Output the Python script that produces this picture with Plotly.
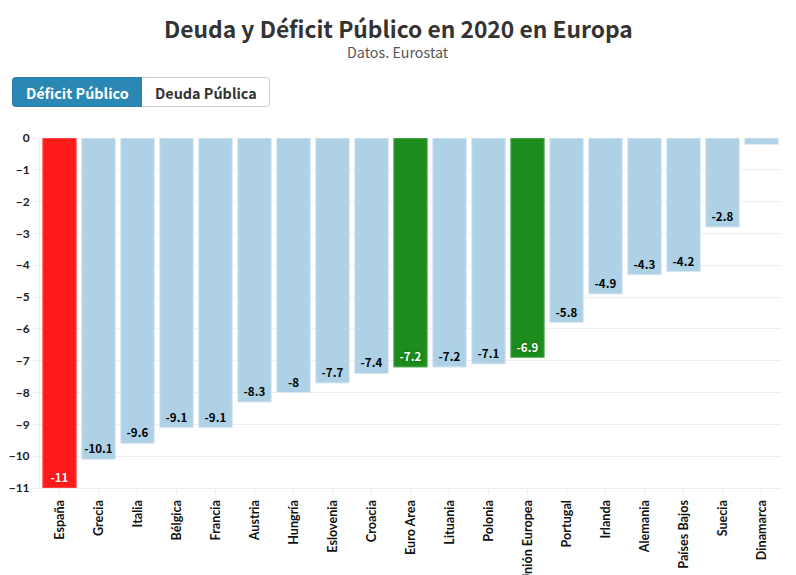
import plotly.graph_objects as go

# Data
paises = ["España", "Grecia", "Italia", "Bélgica", "Francia", "Austria", "Hungría", "Eslovenia",
          "Croacia", "Euro Area", "Lituania", "Polonia", "Unión Europea", "Portugal", "Irlanda",
          "Alemania", "Países Bajos", "Suecia", "Dinamarca"]
deficit = [-11, -10.1, -9.6, -9.1, -9.1, -8.3, -8, -7.7, -7.4, -7.2, -7.2, -7.1, -6.9,
           -5.8, -4.9, -4.3, -4.2, -2.8, -0.2]
etiquetas = ["-11", "-10.1", "-9.6", "-9.1", "-9.1", "-8.3", "-8", "-7.7", "-7.4", "-7.2", "-7.2",
             "-7.1", "-6.9", "-5.8", "-4.9", "-4.3", "-4.2", "-2.8", ""]
y_ticks = [0, -1, -2, -3, -4, -5, -6, -7, -8, -9, -10, -11]

W, H = 796, 575
ML, MR, MT, MB = 40, 15, 138, 87
SOURCE = "Noto Sans CJK SC"

colores = []
borde = []
color_texto = []
sombra = []
for p in paises:
    if p == "España":
        colores.append("#ff1a1a"); borde.append("#ff6a6a"); color_texto.append("white"); sombra.append("0 0 3px #ff0000")
    elif p in ("Euro Area", "Unión Europea"):
        colores.append("#1c8c1c"); borde.append("#6fb86f"); color_texto.append("white"); sombra.append("0 0 3px #006400")
    else:
        colores.append("#aed1e6"); borde.append("#dbe9f3"); color_texto.append("#000000"); sombra.append("0 0 3px #aed1e6")

fig = go.Figure(go.Bar(
    x=paises,
    y=deficit,
    text=etiquetas,
    textposition="inside",
    insidetextanchor="end",
    textangle=0,
    constraintext="none",
    textfont=dict(family=SOURCE, size=11.5, color=color_texto, weight=600, shadow=sombra),
    marker=dict(color=colores, line=dict(color=borde, width=1)),
    width=0.86,
    hoverinfo="x+y",
))


def px_x(v):
    return (v - ML) / (W - ML - MR)


def px_y(v):
    return 1 - (v - MT) / (H - MT - MB)


def boton(x0, x1, y0, y1, r_izq, r_der):
    # rounded box given in pixels, converted to paper coordinates
    return ("M {} {} L {} {} Q {} {} {} {} L {} {} Q {} {} {} {} L {} {} Q {} {} {} {} L {} {} Q {} {} {} {} Z".format(
        px_x(x0 + r_izq), px_y(y0), px_x(x1 - r_der), px_y(y0),
        px_x(x1), px_y(y0), px_x(x1), px_y(y0 + r_der),
        px_x(x1), px_y(y1 - r_der),
        px_x(x1), px_y(y1), px_x(x1 - r_der), px_y(y1),
        px_x(x0 + r_izq), px_y(y1),
        px_x(x0), px_y(y1), px_x(x0), px_y(y1 - r_izq),
        px_x(x0), px_y(y0 + r_izq),
        px_x(x0), px_y(y0), px_x(x0 + r_izq), px_y(y0)))


def texto(x, y, txt, size, color):
    fig.add_annotation(x=px_x(x), y=px_y(y), xref="paper", yref="paper", text=txt, showarrow=False,
                       xanchor="center", yanchor="middle", font=dict(family=SOURCE, size=size, color=color))


fig.add_shape(type="path", path=boton(141.5, 269.5, 77.5, 106.5, 0, 3), xref="paper", yref="paper",
              fillcolor="white", line=dict(color="#cccccc", width=1), layer="above")
fig.add_shape(type="path", path=boton(12.5, 141.5, 77.5, 106.5, 3, 0), xref="paper", yref="paper",
              fillcolor="#2b87b3", line=dict(color="#2a80aa", width=1), layer="above")

texto(77, 92, "<b>Déficit Público</b>", 14.4, "white")
texto(205.5, 92, "<b>Deuda Pública</b>", 14.4, "#333333")
texto(398, 28, "<b>Deuda y Déficit Público en 2020 en Europa</b>", 22.8, "#333333")
texto(398, 52, "Datos. Eurostat", 14.3, "#555555")

fig.update_layout(
    width=W,
    height=H,
    margin=dict(l=ML, r=MR, t=MT, b=MB),
    paper_bgcolor="white",
    plot_bgcolor="white",
    showlegend=False,
    xaxis=dict(
        type="category",
        tickangle=-90,
        tickfont=dict(family="Lato", size=12.6, color="#111111", weight="bold"),
        ticks="outside",
        ticklen=6,
        tickcolor="#eeeeee",
        showgrid=False,
        showline=True,
        linecolor="#eeeeee",
        automargin=False,
    ),
    yaxis=dict(
        range=[-11, 0],
        tickvals=y_ticks,
        tickfont=dict(family="Lato", size=12, color="#222222", weight="bold"),
        ticks="outside",
        ticklen=7,
        tickcolor="#eeeeee",
        gridcolor="#eeeeee",
        zeroline=False,
        showline=True,
        linecolor="#eeeeee",
        automargin=False,
    ),
)

fig.write_html("out.html", config=dict(displayModeBar=False), post_script="document.body.style.margin='0';")
